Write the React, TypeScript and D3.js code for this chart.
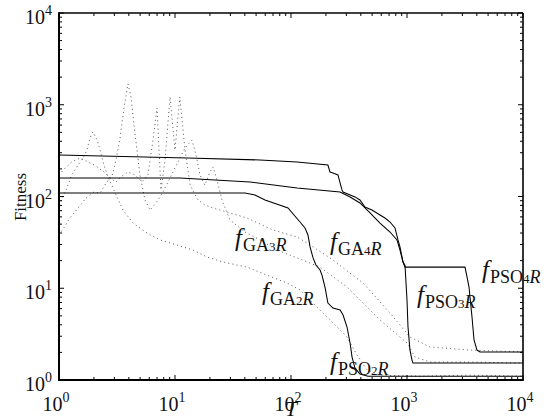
import React from 'react';
import * as d3 from 'd3';

const W = 550;
const H = 419;

// Axis decades (10^k) for both axes
const decades = [0, 1, 2, 3, 4];

// PSO series (solid)
const pso4T = [1, 12.7, 54, 113, 208, 217, 230, 254, 275, 281, 356, 393, 434, 499, 585, 646, 714, 788, 836, 870, 924, 961, 3162, 3291, 3424, 3634, 3782, 4013, 4259, 10000];
const pso4V = [283, 263, 250, 238, 220, 185, 180, 172, 118, 112, 99, 91.6, 76.9, 71.3, 62.9, 58.3, 52.7, 45.4, 33.6, 28.2, 19.3, 17.0, 17.0, 13.3, 10.3, 4.86, 2.73, 2.12, 2.02, 2.02];

const pso3T = [1, 11.0, 44.3, 113, 265, 323, 393, 480, 585, 714, 820, 870, 924, 961, 1000, 1020, 1061, 1104, 1126, 10000];
const pso3V = [159, 159, 144, 124, 112, 98.8, 85.0, 66.1, 51.4, 41.0, 33.6, 26.1, 19.3, 17.9, 7.44, 3.78, 2.12, 1.65, 1.53, 1.53];

const pso2T = [1, 40.1, 48.9, 59.7, 94.2, 119.6, 132, 140, 146, 155, 164, 178, 185, 197, 208, 230, 265, 281, 304, 323, 336, 356, 393, 461, 10000];
const pso2V = [109, 109, 104, 91.6, 74.9, 52.7, 45.4, 38.1, 28.2, 21.4, 17.9, 15.8, 13.9, 10.1, 6.9, 6.09, 5.79, 5.11, 3.78, 2.53, 1.78, 1.35, 1.16, 1.10, 1.10];

// GA series (dotted)
const ga2T = [1, 1.15, 1.29, 1.46, 1.61, 1.74, 1.85, 1.96, 2.13, 2.26, 2.44, 2.65, 2.92, 3.16, 3.56, 4.34, 5.74, 7.43, 10.4, 14.3, 18.9, 25.9, 41.8, 62.1, 92.4, 120, 155, 217, 304, 371, 452, 585, 1294, 3492, 10000];
const ga2V = [80.8, 118, 172, 220, 263, 321, 434, 505, 413, 321, 220, 163, 124, 98.8, 71.3, 51.4, 40.0, 33.6, 29.6, 26.1, 21.9, 19.3, 17.0, 13.9, 11.4, 9.57, 6.9, 4.51, 2.94, 1.87, 1.29, 1.13, 1.10, 1.13, 1.10];

const ga3T = [1, 1.10, 1.24, 1.46, 1.71, 2.00, 2.26, 2.54, 2.86, 3.10, 3.36, 3.63, 3.93, 4.18, 4.43, 4.70, 4.99, 5.51, 6.09, 6.86, 7.88, 9.06, 10.6, 12.2, 14.0, 15.2, 16.4, 18.1, 20.0, 21.3, 23.0, 25.4, 29.8, 40.1, 54.1, 75.7, 113, 178, 304, 585, 1000, 1172, 1579, 3492, 10000];
const ga3V = [38.1, 45.4, 58.3, 74.9, 96.3, 112, 109, 140, 167, 250, 434, 922, 1683, 1215, 602, 321, 172, 91.6, 71.3, 85.0, 112, 159, 238, 338, 413, 283, 172, 133, 185, 210, 151, 91.6, 55.4, 41.0, 33.6, 26.1, 21.4, 17.0, 10.3, 4.51, 2.53, 1.78, 1.57, 1.57, 1.53];

const ga4T = [1, 1.13, 1.29, 1.52, 1.78, 2.08, 2.44, 2.75, 3.10, 3.49, 3.93, 4.52, 5.19, 5.85, 6.46, 7.00, 7.57, 8.2, 9.06, 10.0, 11.0, 12.2, 13.5, 15.8, 18.1, 21.3, 29.8, 41.8, 70.0, 113, 155, 217, 418, 714, 1061, 1579, 3492, 10000];
const ga4V = [172, 204, 238, 263, 238, 215, 185, 159, 144, 167, 185, 172, 144, 172, 413, 922, 118, 250, 1215, 321, 1215, 321, 133, 91.6, 80.8, 74.9, 66.1, 58.3, 43.1, 36.2, 28.2, 21.4, 11.4, 5.37, 2.94, 2.29, 2.12, 2.02];

// Curve labels: name, subscript number, anchor (T, value)
const labelMain = ['GA', 'GA', 'GA', 'PSO', 'PSO', 'PSO'];
const labelNum = ['3', '4', '2', '2', '3', '4'];
const labelT = [32.9, 217, 56.2, 217, 1219, 4434];
const labelV = [28.9, 26.1, 7.44, 1.285, 6.9, 12.9];

const xLabel = 'T';
const yLabel = 'Fitness';

const zip = (a: number[], b: number[]) => a.map((v, i) => [v, b[i]] as [number, number]);

const FONT = '"Liberation Serif", "Times New Roman", serif';

export default function App() {
  const L = 59, R = 523, T = 13, B = 380;
  const x = d3.scaleLog().domain([1, 1e4]).range([L, R]);
  const y = d3.scaleLog().domain([1, 1e4]).range([B, T]);
  const line = d3.line<[number, number]>().x(d => x(d[0])).y(d => y(d[1]));

  const majors = decades.map(k => Math.pow(10, k));
  const minors: number[] = [];
  for (let k = 0; k < 4; k++) for (let m = 2; m <= 9; m++) minors.push(m * Math.pow(10, k));

  const solids = [zip(pso4T, pso4V), zip(pso3T, pso3V), zip(pso2T, pso2V)];
  const dots = [zip(ga2T, ga2V), zip(ga3T, ga3V), zip(ga4T, ga4V)];

  const MJ = 5, MN = 3;

  return (
    <svg width={W} height={H} style={{ position: 'absolute', left: 0, top: 0, background: '#fff' }} fontFamily={FONT}>
      <defs>
        <clipPath id="plot"><rect x={L} y={T} width={R - L} height={B - T} /></clipPath>
      </defs>
      <rect x={0} y={0} width={W} height={H} fill="#fff" />
      <g clipPath="url(#plot)">
        {dots.map((d, i) => (
          <path key={'g' + i} d={line(d) || ''} fill="none" stroke="#444" strokeWidth={0.9} strokeDasharray="1 3.2" />
        ))}
        {solids.map((d, i) => (
          <path key={'s' + i} d={line(d) || ''} fill="none" stroke="#000" strokeWidth={1.05} />
        ))}
      </g>
      {/* ticks */}
      <g stroke="#000" strokeWidth={1}>
        {majors.map((v, i) => (
          <g key={'mx' + i}>
            <line x1={x(v)} x2={x(v)} y1={B} y2={B - MJ} />
            <line x1={x(v)} x2={x(v)} y1={T} y2={T + MJ} />
            <line x1={L} x2={L + MJ} y1={y(v)} y2={y(v)} />
            <line x1={R} x2={R - MJ} y1={y(v)} y2={y(v)} />
          </g>
        ))}
        {minors.map((v, i) => (
          <g key={'mn' + i}>
            <line x1={x(v)} x2={x(v)} y1={B} y2={B - MN} />
            <line x1={x(v)} x2={x(v)} y1={T} y2={T + MN} />
            <line x1={L} x2={L + MN} y1={y(v)} y2={y(v)} />
            <line x1={R} x2={R - MN} y1={y(v)} y2={y(v)} />
          </g>
        ))}
      </g>
      {/* frame */}
      <line x1={L} x2={R} y1={T} y2={T} stroke="#000" strokeWidth={1.4} />
      <line x1={R} x2={R} y1={T} y2={B} stroke="#000" strokeWidth={1.6} />
      <line x1={L} x2={L} y1={T - 0.7} y2={B + 1} stroke="#000" strokeWidth={2} />
      <line x1={L - 1} x2={R + 0.8} y1={B} y2={B} stroke="#000" strokeWidth={2} />
      {/* y tick labels */}
      {decades.map((k, i) => (
        <text key={'yl' + i} x={52} y={y(Math.pow(10, k)) + 11} textAnchor="end" fontSize={20} fill="#111">
          10<tspan fontSize={14} dy={-9}>{k}</tspan>
        </text>
      ))}
      {/* x tick labels */}
      {decades.map((k, i) => (
        <text key={'xl' + i} x={x(Math.pow(10, k)) - 3} y={411} textAnchor="middle" fontSize={20} fill="#111">
          10<tspan fontSize={14} dy={-9}>{k}</tspan>
        </text>
      ))}
      <text x={291} y={416} textAnchor="middle" fontSize={21} fontStyle="italic" fill="#111">{xLabel}</text>
      <text transform="translate(26,197) rotate(-90)" textAnchor="middle" fontSize={17} fill="#111">{yLabel}</text>
      {/* curve labels */}
      {labelMain.map((m, i) => (
        <text key={'cl' + i} x={x(labelT[i])} y={y(labelV[i])} fill="#111">
          <tspan fontSize={25} fontStyle="italic">f</tspan>
          <tspan fontSize={18} dy={5} dx={1}>{m}</tspan>
          <tspan fontSize={13}>{labelNum[i]}</tspan>
          <tspan fontSize={18} fontStyle="italic">R</tspan>
        </text>
      ))}
    </svg>
  );
}
